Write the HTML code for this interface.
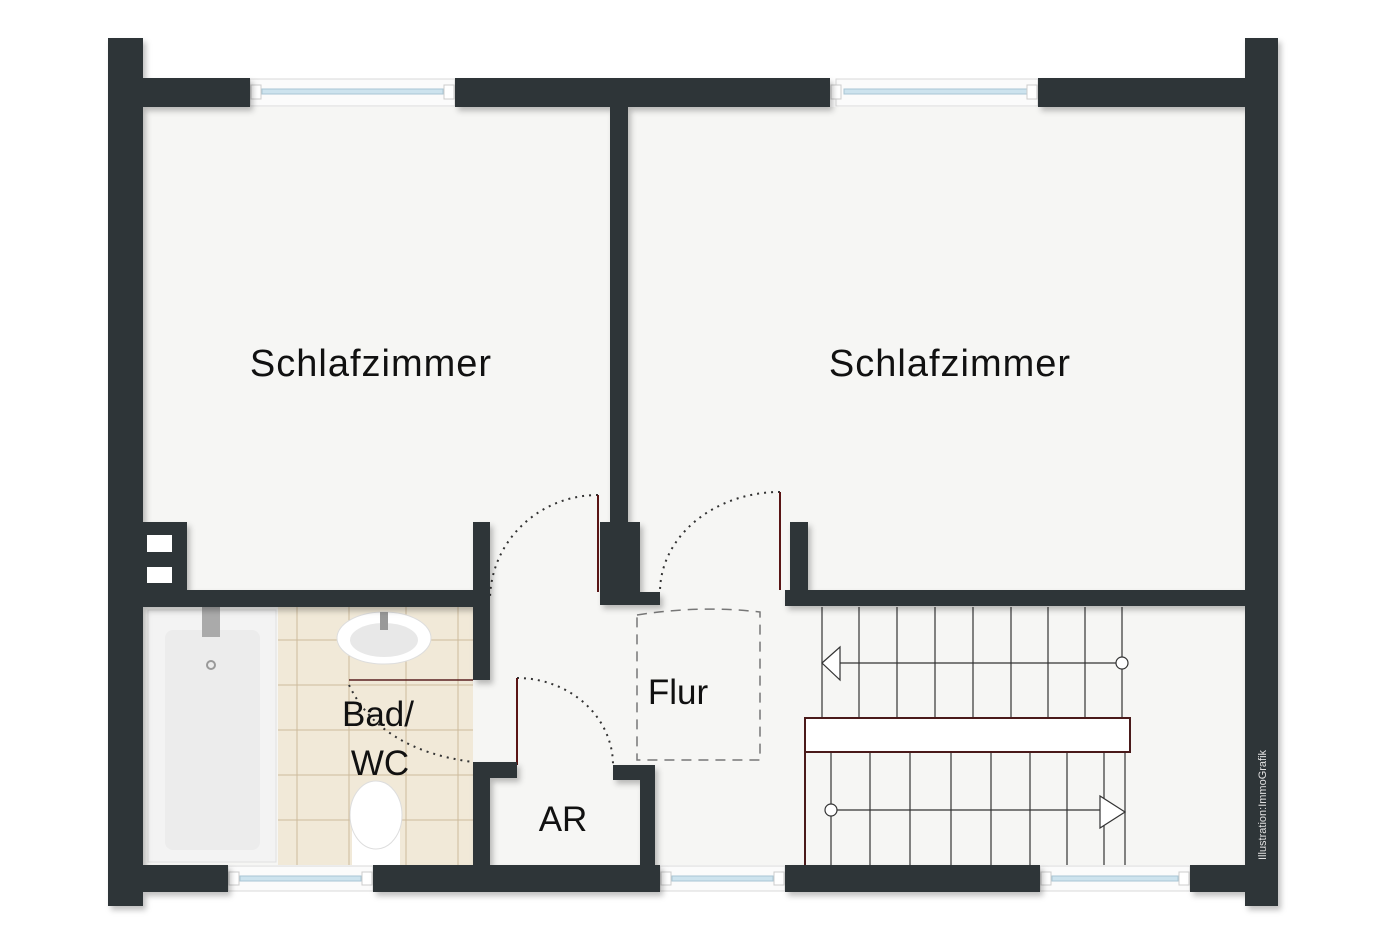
<!DOCTYPE html>
<html><head><meta charset="utf-8"><style>
html,body{margin:0;padding:0;background:#fff;}
svg{display:block;}
text{font-family:"Liberation Sans","DejaVu Sans",sans-serif;fill:#111;}
</style></head><body>
<svg width="1400" height="933" viewBox="0 0 1400 933" xmlns="http://www.w3.org/2000/svg">
<defs>
<filter id="sh" x="-5%" y="-5%" width="110%" height="110%"><feDropShadow dx="3" dy="4" stdDeviation="3" flood-color="#000" flood-opacity="0.25"/></filter>
</defs>
<rect width="1400" height="933" fill="#fff"/>
<rect x="143" y="107" width="1102" height="758" fill="#f6f6f4"/>
<rect x="278" y="607" width="195" height="258" fill="#f1e9d8"/>
<g stroke="#cdbb9c" stroke-width="1">
<line x1="278" y1="640" x2="473" y2="640"/><line x1="278" y1="685" x2="473" y2="685"/><line x1="278" y1="730" x2="473" y2="730"/><line x1="278" y1="775" x2="473" y2="775"/><line x1="278" y1="820" x2="473" y2="820"/>
<line x1="297" y1="607" x2="297" y2="865"/><line x1="349" y1="607" x2="349" y2="865"/><line x1="406" y1="607" x2="406" y2="865"/><line x1="458" y1="607" x2="458" y2="865"/>
</g>
<line x1="349" y1="680" x2="473" y2="680" stroke="#5a2020" stroke-width="1.5"/>
<rect x="148" y="610" width="128" height="252" fill="#f3f3f3" stroke="#e0e0e0"/>
<rect x="165" y="630" width="95" height="220" rx="8" fill="#ececec"/>
<circle cx="211" cy="665" r="4" fill="none" stroke="#999" stroke-width="2"/>
<rect x="202" y="607" width="18" height="30" fill="#aaa"/>
<ellipse cx="384" cy="638" rx="47" ry="26" fill="#fff" stroke="#ddd"/>
<ellipse cx="384" cy="640" rx="34" ry="17" fill="#e8e8e8"/>
<rect x="380" y="612" width="8" height="18" fill="#999"/>
<rect x="352" y="820" width="48" height="45" fill="#fff"/>
<ellipse cx="376" cy="815" rx="26" ry="34" fill="#fff" stroke="#ddd"/>
<g fill="none" stroke="#333" stroke-width="2" stroke-dasharray="2 5">
<path d="M598 495 A108 105 0 0 0 490 600"/>
<path d="M780 492 A120 100 0 0 0 660 592"/>
<path d="M517 678 A96 87 0 0 1 613 765"/>
<path d="M349 685 Q380 750 473 762"/>
</g>
<g stroke="#5a1515" stroke-width="2">
<line x1="598" y1="495" x2="598" y2="592"/>
<line x1="780" y1="492" x2="780" y2="590"/>
<line x1="517" y1="678" x2="517" y2="765"/>
</g>
<path d="M637 615 Q700 605 760 612 L760 760 L637 760 Z" fill="none" stroke="#777" stroke-width="1.5" stroke-dasharray="10 7"/>
<g stroke="#333" stroke-width="1.2" fill="none">
<line x1="822" y1="607" x2="822" y2="718"/><line x1="859" y1="607" x2="859" y2="718"/><line x1="897" y1="607" x2="897" y2="718"/><line x1="935" y1="607" x2="935" y2="718"/><line x1="973" y1="607" x2="973" y2="718"/><line x1="1011" y1="607" x2="1011" y2="718"/><line x1="1048" y1="607" x2="1048" y2="718"/><line x1="1085" y1="607" x2="1085" y2="718"/><line x1="1122" y1="607" x2="1122" y2="718"/>
<line x1="831" y1="752" x2="831" y2="865"/><line x1="870" y1="752" x2="870" y2="865"/><line x1="910" y1="752" x2="910" y2="865"/><line x1="951" y1="752" x2="951" y2="865"/><line x1="991" y1="752" x2="991" y2="865"/><line x1="1030" y1="752" x2="1030" y2="865"/><line x1="1067" y1="752" x2="1067" y2="865"/><line x1="1104" y1="752" x2="1104" y2="865"/><line x1="1125" y1="752" x2="1125" y2="865"/>
<line x1="840" y1="663" x2="1117" y2="663"/>
<polygon points="822,663 840,647 840,680" fill="#fff"/>
<circle cx="1122" cy="663" r="6" fill="#fff"/>
<line x1="836" y1="810" x2="1102" y2="810"/>
<circle cx="831" cy="810" r="6" fill="#fff"/>
<polygon points="1125,812 1100,796 1100,828" fill="#fff"/>
</g>
<rect x="805" y="718" width="325" height="34" fill="#fff" stroke="#4a1a1a" stroke-width="2"/>
<line x1="805" y1="752" x2="805" y2="865" stroke="#4a1a1a" stroke-width="2"/>
<g stroke="#d8d8d8" stroke-width="1">
<rect x="250" y="79" width="205" height="27" fill="#fbfbfb"/><rect x="836" y="79" width="202" height="27" fill="#fbfbfb"/>
<rect x="228" y="866" width="145" height="25" fill="#fbfbfb"/><rect x="660" y="866" width="125" height="25" fill="#fbfbfb"/>
<rect x="1040" y="866" width="150" height="25" fill="#fbfbfb"/>
</g>
<g fill="#cde3ee" stroke="#a9c6d4" stroke-width="1">
<rect x="262" y="89" width="181" height="5"/><rect x="844" y="89" width="184" height="5"/>
<rect x="240" y="876" width="121" height="5"/><rect x="672" y="876" width="101" height="5"/><rect x="1052" y="876" width="126" height="5"/>
</g>
<g fill="#fff" stroke="#ccc" stroke-width="1">
<rect x="251" y="85" width="10" height="14"/><rect x="444" y="85" width="10" height="14"/>
<rect x="831" y="85" width="10" height="14"/><rect x="1027" y="85" width="10" height="14"/>
<rect x="229" y="872" width="10" height="13"/><rect x="362" y="872" width="10" height="13"/>
<rect x="661" y="872" width="10" height="13"/><rect x="774" y="872" width="10" height="13"/>
<rect x="1041" y="872" width="10" height="13"/><rect x="1179" y="872" width="10" height="13"/>
</g>
<g fill="#2e3638" filter="url(#sh)">
<rect x="108" y="38" width="35" height="868"/>
<rect x="1245" y="38" width="33" height="868"/>
<rect x="143" y="78" width="107" height="29"/>
<rect x="455" y="78" width="375" height="29"/>
<rect x="1038" y="78" width="207" height="29"/>
<rect x="610" y="107" width="18" height="420"/>
<rect x="600" y="522" width="40" height="83"/>
<rect x="600" y="592" width="60" height="13"/>
<rect x="143" y="522" width="44" height="85"/>
<rect x="143" y="590" width="347" height="17"/>
<rect x="473" y="522" width="17" height="158"/>
<rect x="790" y="522" width="18" height="84"/>
<rect x="785" y="590" width="460" height="16"/>
<rect x="473" y="762" width="17" height="103"/>
<rect x="473" y="762" width="44" height="16"/>
<rect x="613" y="765" width="42" height="15"/>
<rect x="640" y="765" width="15" height="100"/>
<rect x="143" y="865" width="85" height="27"/>
<rect x="373" y="865" width="287" height="27"/>
<rect x="785" y="865" width="255" height="27"/>
<rect x="1190" y="865" width="55" height="27"/>
</g>
<rect x="147" y="535" width="25" height="17" fill="#fff"/>
<rect x="147" y="567" width="25" height="16" fill="#fff"/>
<text x="371" y="376" font-size="38" letter-spacing="1" text-anchor="middle">Schlafzimmer</text>
<text x="950" y="376" font-size="38" letter-spacing="1" text-anchor="middle">Schlafzimmer</text>
<text x="678" y="704" font-size="35" text-anchor="middle">Flur</text>
<text x="378" y="726" font-size="35" text-anchor="middle">Bad/</text>
<text x="380" y="775" font-size="35" text-anchor="middle">WC</text>
<text x="563" y="831" font-size="35" text-anchor="middle">AR</text>
<text x="1266" y="860" font-size="11" style="fill:#e0e0e0" transform="rotate(-90 1266 860)">Illustration:ImmoGrafik</text>
</svg>
</body></html>
